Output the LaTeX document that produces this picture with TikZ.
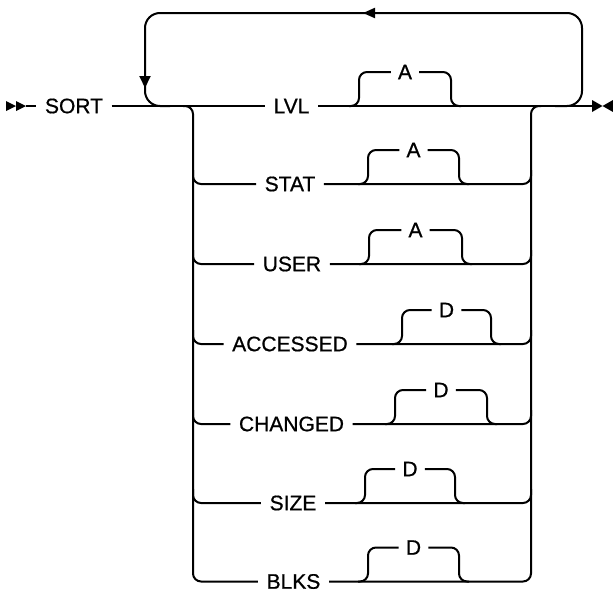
\documentclass[tikz,border=0pt]{standalone}
\usepackage{fontspec}
\setmainfont{Liberation Sans}
\newfontfamily\railfont{Liberation Sans}[FakeBold=0.7]
\usetikzlibrary{arrows.meta}
\tikzset{
  rail/.style={line width=2pt,rounded corners=8pt},
  kw/.style={inner xsep=8.5pt,inner ysep=0pt,font=\railfont\fontsize{21}{24}\selectfont},
  dflt/.style={kw,inner xsep=7pt},
}
\begin{document}
\begin{tikzpicture}[x=1pt,y=-1pt]
  \useasboundingbox (0,0) rectangle (613,592);

  % Debut et fin
  \coordinate (in) at (26,106);
  \coordinate (out) at (592,106);
  \fill (6,101) -- (16,106) -- (6,111) -- cycle;
  \fill (16,101) -- (26,106) -- (16,111) -- cycle;
  \fill (592,100) -- (602.5,106) -- (592,112) -- cycle;
  \fill (613,100) -- (602.5,106) -- (613,112) -- cycle;

  % Mots-cles
  \node[kw] (sort) at (74,106) {SORT};
  \node[kw] (lvl) at (291.5,106) {LVL};
  \node[kw] (stat) at (290,184) {STAT};
  \node[kw] (user) at (292,264) {USER};
  \node[kw] (acc) at (290,344) {ACCESSED};
  \node[kw] (chg) at (291.5,424) {CHANGED};
  \node[kw] (size) at (293,503) {SIZE};
  \node[kw] (blks) at (293.5,581.5) {BLKS};

  % Ligne principale
  \draw[rail] (in) -- (sort.west);
  \draw[rail] (sort.east) -- (lvl.west);
  \draw[rail] (lvl.east) -- (out);

  % Boucle de retour
  \draw[rail,rounded corners=15pt] (555,106) -| (582,13) -| (145,106) -- (170,106);
  \draw[line width=2pt,-{Triangle[length=12pt,width=10pt]}] (385,13) -- (363,13);
  \draw[line width=2pt,-{Triangle[length=12pt,width=11pt]}] (145,60) -- (145,88);

  % Choix (gauche)
  \draw[rail] (183,106) -| (193,581.5) -- (blks.west);
  \draw[rail] (193,170) |- (stat.west);
  \draw[rail] (193,250) |- (user.west);
  \draw[rail] (193,330) |- (acc.west);
  \draw[rail] (193,410) |- (chg.west);
  \draw[rail] (193,489) |- (size.west);

  % Choix (droite)
  \draw[rail] (blks.east) -| (531,106) -- (541,106);
  \draw[rail] (stat.east) -| (531,170);
  \draw[rail] (user.east) -| (531,250);
  \draw[rail] (acc.east) -| (531,330);
  \draw[rail] (chg.east) -| (531,410);
  \draw[rail] (size.east) -| (531,489);

  % Valeurs par defaut A / D
  \node[dflt] (lvla) at (405,72) {A};
  \draw[rail] (349,106) -| (359,72) -- (lvla.west);
  \draw[rail] (lvla.east) -| (451,106) -- (461,106);

  \node[dflt] (stata) at (413.5,150) {A};
  \draw[rail] (358,184) -| (368,150) -- (stata.west);
  \draw[rail] (stata.east) -| (459,184) -- (469,184);

  \node[dflt] (usera) at (415.5,230) {A};
  \draw[rail] (359,264) -| (369,230) -- (usera.west);
  \draw[rail] (usera.east) -| (462,264) -- (472,264);

  \node[dflt] (accd) at (446.5,310) {D};
  \draw[rail] (392,344) -| (402,310) -- (accd.west);
  \draw[rail] (accd.east) -| (491,344) -- (501,344);

  \node[dflt] (chgd) at (441,390) {D};
  \draw[rail] (385,424) -| (395,390) -- (chgd.west);
  \draw[rail] (chgd.east) -| (487,424) -- (497,424);

  \node[dflt] (sized) at (410,469) {D};
  \draw[rail] (355,503) -| (365,469) -- (sized.west);
  \draw[rail] (sized.east) -| (455,503) -- (465,503);

  \node[dflt] (blksd) at (413.5,547.5) {D};
  \draw[rail] (358,581.5) -| (368,547.5) -- (blksd.west);
  \draw[rail] (blksd.east) -| (459,581.5) -- (469,581.5);
\end{tikzpicture}
\end{document}
